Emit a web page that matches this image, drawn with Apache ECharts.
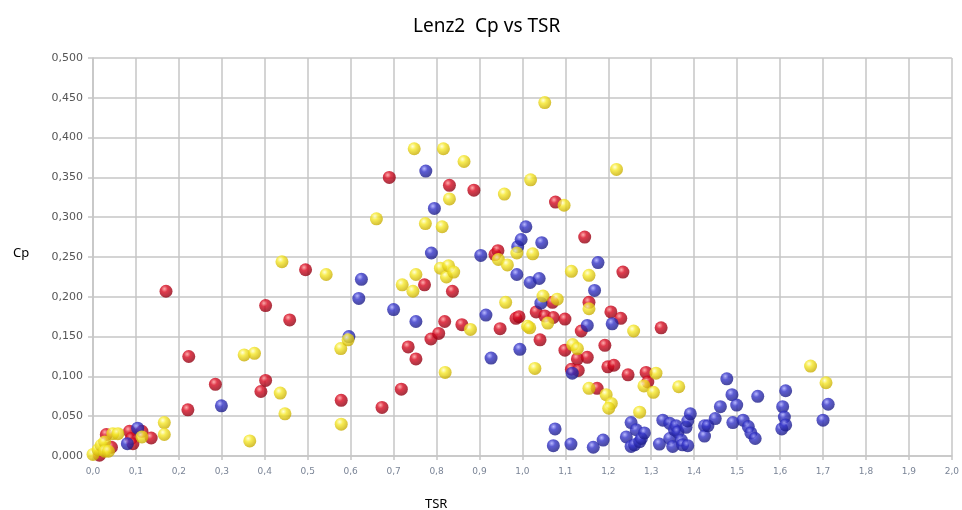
<!DOCTYPE html>
<html>
<head>
<meta charset="utf-8">
<script src="https://cdn.jsdelivr.net/npm/echarts@6/dist/echarts.min.js"></script>
<style>html,body{margin:0;padding:0;background:#fff;}#main{width:962px;height:510px;}</style>
</head>
<body>
<div id="main"></div>
<script>
const chartTitle = 'Lenz2  Cp vs TSR';
const xName = 'TSR';
const yName = 'Cp';

const redPoints = [
  [0.015,0.001],[0.031,0.027],[0.043,0.011],[0.085,0.031],[0.089,0.022],[0.093,0.0155],[0.114,0.031],[0.1355,0.0226],
  [0.170,0.207],[0.221,0.058],[0.223,0.125],[0.285,0.090],[0.391,0.081],[0.402,0.095],[0.402,0.189],[0.458,0.171],
  [0.495,0.234],[0.578,0.070],[0.673,0.061],[0.690,0.350],[0.718,0.084],[0.734,0.137],[0.752,0.122],[0.772,0.215],
  [0.787,0.147],[0.805,0.154],[0.819,0.169],[0.830,0.340],[0.837,0.207],[0.859,0.165],[0.887,0.334],[0.936,0.253],
  [0.943,0.258],[0.948,0.160],[0.985,0.173],[0.992,0.175],[1.032,0.181],[1.041,0.146],[1.052,0.176],[1.070,0.193],
  [1.072,0.174],[1.077,0.319],[1.099,0.172],[1.099,0.133],[1.114,0.109],[1.128,0.122],[1.130,0.1075],[1.137,0.157],
  [1.145,0.275],[1.151,0.124],[1.155,0.193],[1.174,0.085],[1.192,0.139],[1.199,0.112],[1.206,0.181],[1.213,0.114],
  [1.229,0.173],[1.234,0.231],[1.246,0.102],[1.288,0.105],[1.292,0.093],[1.323,0.161]
];

const bluePoints = [
  [0.080,0.0155],[0.104,0.035],[0.299,0.063],[0.596,0.150],[0.619,0.198],[0.625,0.222],[0.700,0.184],[0.752,0.169],
  [0.775,0.358],[0.788,0.255],[0.795,0.311],[0.903,0.252],[0.915,0.177],[0.927,0.123],[0.987,0.228],[0.989,0.263],
  [0.994,0.134],[0.997,0.272],[1.008,0.288],[1.018,0.218],[1.039,0.223],[1.043,0.192],[1.045,0.268],[1.116,0.104],
  [1.151,0.164],[1.168,0.208],[1.176,0.243],[1.209,0.166],[1.076,0.034],[1.072,0.013],[1.113,0.015],[1.165,0.011],
  [1.188,0.020],[1.242,0.024],[1.253,0.042],[1.253,0.012],[1.261,0.014],[1.265,0.033],[1.273,0.018],[1.277,0.022],
  [1.284,0.029],[1.319,0.015],[1.327,0.045],[1.343,0.041],[1.343,0.022],[1.354,0.033],[1.358,0.038],[1.362,0.030],
  [1.350,0.012],[1.370,0.020],[1.373,0.014],[1.381,0.036],[1.385,0.044],[1.385,0.013],[1.391,0.053],[1.424,0.038],
  [1.424,0.025],[1.432,0.038],[1.449,0.047],[1.461,0.062],[1.476,0.097],[1.488,0.077],[1.490,0.042],[1.499,0.064],
  [1.514,0.045],[1.526,0.037],[1.532,0.029],[1.542,0.022],[1.548,0.075],[1.604,0.034],[1.606,0.062],[1.610,0.049],
  [1.613,0.039],[1.613,0.082],[1.700,0.045],[1.712,0.065]
];

const yellowPoints = [
  [0.000,0.002],[0.012,0.008],[0.019,0.0135],[0.027,0.0176],[0.027,0.006],[0.036,0.006],[0.046,0.028],[0.058,0.028],
  [0.114,0.024],[0.166,0.042],[0.166,0.027],[0.352,0.127],[0.365,0.019],[0.376,0.129],[0.436,0.079],[0.440,0.244],
  [0.447,0.053],[0.543,0.228],[0.577,0.135],[0.578,0.040],[0.594,0.146],[0.660,0.298],[0.720,0.215],[0.745,0.207],
  [0.748,0.386],[0.752,0.228],[0.774,0.292],[0.809,0.236],[0.813,0.288],[0.816,0.386],[0.820,0.105],[0.823,0.225],
  [0.828,0.239],[0.830,0.323],[0.840,0.231],[0.864,0.370],[0.879,0.159],[0.944,0.247],[0.958,0.329],[0.961,0.193],
  [0.965,0.240],[0.987,0.255],[1.012,0.163],[1.017,0.161],[1.019,0.347],[1.024,0.254],[1.029,0.110],[1.048,0.201],
  [1.052,0.444],[1.059,0.167],[1.081,0.197],[1.097,0.315],[1.114,0.232],[1.117,0.140],[1.128,0.135],[1.155,0.227],
  [1.155,0.185],[1.155,0.085],[1.195,0.077],[1.207,0.066],[1.201,0.060],[1.219,0.360],[1.259,0.157],[1.273,0.055],
  [1.283,0.088],[1.305,0.080],[1.311,0.104],[1.364,0.087],[1.671,0.113],[1.707,0.092]
];

function sphere(light, mid, dark) {
  return {
    type: 'radial', x: 0.38, y: 0.32, r: 0.72,
    colorStops: [
      {offset: 0, color: light},
      {offset: 0.35, color: mid},
      {offset: 1, color: dark}
    ]
  };
}

const chart = echarts.init(document.getElementById('main'));
const gridColor = '#c6c6c6';
chart.setOption({
  animation: false,
  backgroundColor: '#ffffff',
  title: [
    {text: chartTitle, left: 408, top: 12,
     textStyle: {fontFamily: 'Noto Sans', fontSize: 19, fontWeight: 'normal', color: '#000'}},
    {text: yName, left: 8, top: 242,
     textStyle: {fontFamily: 'Noto Sans', fontSize: 13, fontWeight: 'normal', color: '#000'}},
    {text: xName, left: 420, top: 493,
     textStyle: {fontFamily: 'Noto Sans', fontSize: 13, fontWeight: 'normal', color: '#000'}}
  ],
  grid: {left: 93, right: 7, top: 58, bottom: 54, containLabel: false},
  xAxis: {
    type: 'value', min: 0, max: 2, interval: 0.1,
    axisLine: {show: true, lineStyle: {color: gridColor, width: 1.5}},
    axisTick: {show: true, length: 4, lineStyle: {color: gridColor, width: 1.5}},
    splitLine: {show: true, lineStyle: {color: gridColor, width: 1.5}},
    axisLabel: {
      margin: 11, fontSize: 9, color: '#7a8496', fontFamily: 'DejaVu Sans',
      formatter: v => v.toFixed(1).replace('.', ',')
    }
  },
  yAxis: {
    type: 'value', min: 0, max: 0.5, interval: 0.05,
    axisLine: {show: true, lineStyle: {color: gridColor, width: 1.5}},
    axisTick: {show: true, length: 5, lineStyle: {color: gridColor, width: 1.5}},
    splitLine: {show: true, lineStyle: {color: gridColor, width: 1.5}},
    axisLabel: {
      margin: 10, fontSize: 11, color: '#555555', fontFamily: 'DejaVu Sans',
      formatter: v => v.toFixed(3).replace('.', ',')
    }
  },
  series: [
    {type: 'scatter', name: 'red', data: redPoints, symbolSize: 13,
     itemStyle: {color: sphere('#ff9a9a', '#d80a20', '#880010')}},
    {type: 'scatter', name: 'blue', data: bluePoints, symbolSize: 13,
     itemStyle: {color: sphere('#a8a8ff', '#3434c8', '#1a1a80')}},
    {type: 'scatter', name: 'yellow', data: yellowPoints, symbolSize: 13,
     itemStyle: {color: sphere('#ffffd0', '#f6e82a', '#c4a800')}}
  ]
});
</script>
</body>
</html>
